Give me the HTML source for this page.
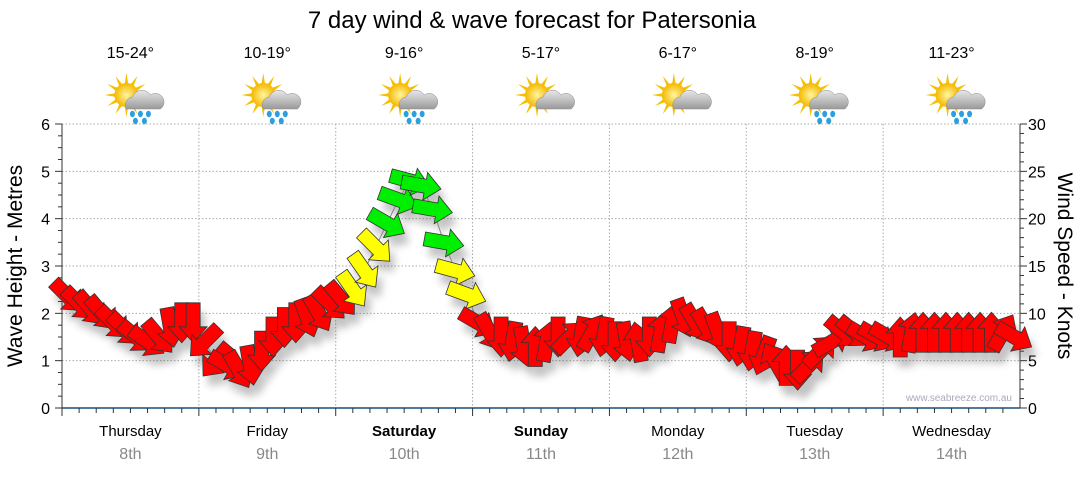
<!DOCTYPE html>
<html><head><meta charset="utf-8">
<style>
body{margin:0;background:#fff;width:1080px;height:475px;overflow:hidden;font-family:"Liberation Sans",sans-serif}
svg text{font-family:"Liberation Sans",sans-serif}
</style></head>
<body>
<svg id="c" width="1080" height="475">
<defs>
<filter id="sh" x="-50%" y="-50%" width="200%" height="200%"><feGaussianBlur stdDeviation="4"/></filter>
<radialGradient id="sun" cx="50%" cy="50%" r="50%"><stop offset="0" stop-color="#fff6a0"/><stop offset="1" stop-color="#f5b800"/></radialGradient>
<linearGradient id="cloud" x1="0" y1="0" x2="0" y2="1"><stop offset="0" stop-color="#e8e8e8"/><stop offset="1" stop-color="#9a9a9a"/></linearGradient>
</defs>
<text x="532" y="28" font-size="24" text-anchor="middle" fill="#000">7 day wind &amp; wave forecast for Patersonia</text>
<g id="grid"></g><g id="axes"></g><g id="icons"></g>
<g id="shadows" opacity="0.35"></g><g id="arrows"></g>
<text x="1012" y="401" font-size="10" fill="#aab" text-anchor="end">www.seabreeze.com.au</text>
<text transform="translate(22,266) rotate(-90)" font-size="21" text-anchor="middle">Wave Height - Metres</text>
<text transform="translate(1058,266) rotate(90)" font-size="21" text-anchor="middle">Wind Speed - Knots</text>
</svg>
<script>
const days=["Thursday","Friday","Saturday","Sunday","Monday","Tuesday","Wednesday"];
const dates=["8th","9th","10th","11th","12th","13th","14th"];
const temps=["15-24°","10-19°","9-16°","5-17°","6-17°","8-19°","11-23°"];
const rainy=[true,true,true,false,false,true,true];
const waveTicks=[0,1,2,3,4,5,6];
const windTicks=[0,5,10,15,20,25,30];
const windSpeed=[11.8,11,10.5,10,9,8.3,7.5,7,7.5,8.5,9,9,
7,5,4.5,4,4.5,6,7.5,8.5,9,9.5,10,11,
11.5,12.5,14.5,17,19.5,22,24,23.5,21,17.5,14.5,12,
9,8,7.5,7,6.5,6.5,7,7.5,7.5,7.5,8,7.5,
7,7,7,7.5,8,9,9.5,9,8.5,8,7,6.5,
6,5.5,5,4.5,4,4.5,6,7,8,8,7.5,7.5,
7.5,7.5,8,8,8,8,8,8,8,8,8,7.5];
const windDir=[45,45,50,50,45,45,40,35,50,80,90,90,
135,130,30,60,80,90,90,90,90,70,60,45,
50,55,55,45,30,20,15,10,10,10,15,20,
30,60,90,100,80,-90,-80,90,-45,100,-60,100,
90,80,-100,90,-80,-80,70,60,60,70,90,100,
100,110,-120,-90,90,-45,-45,-30,40,40,30,30,
30,-90,-80,-90,-90,-90,-90,-90,-90,-90,-60,30];
const X0=62,X1=1020,Y0=408,Y1=124;
const dayW=(X1-X0)/7;
const yWave=v=>Y0-(v/6)*(Y0-Y1);
const yWind=v=>Y0-(v/30)*(Y0-Y1);
const xT=i=>X0+(i+0.5)*(X1-X0)/windSpeed.length;
const NS="http://www.w3.org/2000/svg";
function mk(t,a,p){const e=document.createElementNS(NS,t);for(const k in a)e.setAttribute(k,a[k]);p.appendChild(e);return e;}
const grid=document.getElementById('grid'),axes=document.getElementById('axes'),icons=document.getElementById('icons');
waveTicks.forEach(v=>{if(v>0){const l=mk('line',{x1:X0,x2:X1,y1:yWave(v),y2:yWave(v),stroke:'#aaa','stroke-dasharray':'1.5,2'},grid);}
const t=mk('text',{x:50,y:yWave(v)+6,'font-size':16,'text-anchor':'end'},axes);t.textContent=v;});
windTicks.forEach(v=>{const t=mk('text',{x:1028,y:yWind(v)+6,'font-size':16},axes);t.textContent=v;});
for(let k=0;k<=24;k++){const y=Y0-k*(Y0-Y1)/24;mk('line',{x1:X0-(k%4?4:7),x2:X0,y1:y,y2:y,stroke:'#333'},axes);}
for(let k=0;k<=30;k++){const y=yWind(k);mk('line',{x1:X1,x2:X1+(k%5?4:7),y1:y,y2:y,stroke:'#333'},axes);}
mk('line',{x1:X0,x2:X0,y1:Y1,y2:Y0,stroke:'#333'},axes);
mk('line',{x1:X1,x2:X1,y1:Y1,y2:Y0,stroke:'#333'},axes);
mk('line',{x1:X0,x2:X1,y1:Y0,y2:Y0,stroke:'#1a4f7a','stroke-width':1.5},axes);
for(let d=0;d<7;d++){
 const xs=X0+d*dayW;
 if(d>0){const l=mk('line',{x1:xs,x2:xs,y1:Y1,y2:Y0,stroke:'#aaa','stroke-dasharray':'1.5,2'},grid);}
 for(let h=0;h<8;h++){const x=xs+h*dayW/8;mk('line',{x1:x,x2:x,y1:Y0,y2:Y0+(h?5:8),stroke:'#333'},axes);}
 const cx=xs+dayW/2;
 const dl=mk('text',{x:cx,y:436,'font-size':15,'text-anchor':'middle','font-weight':(d==2||d==3)?'bold':'normal'},axes);dl.textContent=days[d];
 
 const dt=mk('text',{x:cx,y:459,'font-size':16,'text-anchor':'middle',fill:'#888'},axes);dt.textContent=dates[d];
 
 const tt=mk('text',{x:cx,y:58,'font-size':16,'text-anchor':'middle'},icons);tt.textContent=temps[d];
 
 const g=mk('g',{transform:`translate(${cx-4},95)`},icons);
 
 for(let r=0;r<12;r++){const a=r*30*Math.PI/180;mk('polygon',{points:`${Math.cos(a-0.2)*10},${Math.sin(a-0.2)*10} ${Math.cos(a)*22},${Math.sin(a)*22} ${Math.cos(a+0.2)*10},${Math.sin(a+0.2)*10}`,fill:'#f5c000'},g);}
 mk('circle',{cx:0,cy:0,r:12,fill:'url(#sun)'},g);
 mk('path',{d:'M0,14 a8,8 0 0,1 6,-12 a10,10 0 0,1 18,-2 a8,8 0 0,1 10,14 z',fill:'url(#cloud)',stroke:'#888','stroke-width':0.5},g);
 if(rainy[d]){[[6,19],[14,19],[22,19],[9,26],[18,26]].forEach(p=>mk('ellipse',{cx:p[0],cy:p[1],rx:2.5,ry:3.2,fill:'#2aa0e0'},g));}
}
const arrows=document.getElementById('arrows'),shadows=document.getElementById('shadows');
const shape="-20,-7 4,-7 4,-14 20,0 4,14 4,7 -20,7";
let pts=windSpeed.map((v,i)=>xT(i)+','+yWind(v)).join(' ');
mk('polyline',{points:pts,fill:'none',stroke:'#888','stroke-width':1},arrows);
windSpeed.forEach((v,i)=>{
 const x=xT(i),y=yWind(v),a=windDir[i];
 const col=v<12?'#ff0000':(v<17.5?'#ffff00':'#00ee00');
 const s=mk('polygon',{points:shape,transform:`translate(${x+5},${y+10}) rotate(${a})`,fill:'#555',filter:'url(#sh)'},shadows);
 
 const p=mk('polygon',{points:shape,transform:`translate(${x},${y}) rotate(${a})`,fill:col,stroke:'#333','stroke-width':0.8},arrows);
 
});
</script>
</body></html>
